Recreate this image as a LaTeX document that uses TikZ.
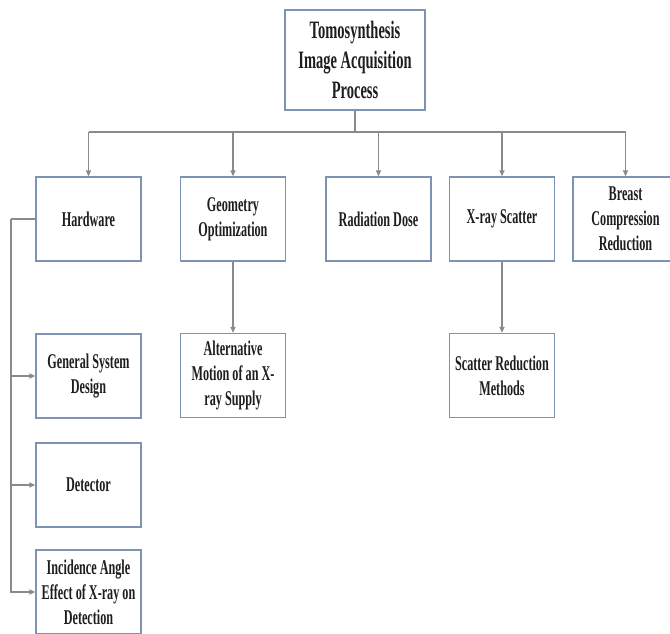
\documentclass[tikz,border=0pt]{standalone}
\usepackage{fontspec}
\newfontfamily\lbl{Liberation Serif}[FakeStretch=0.58]
\usetikzlibrary{arrows.meta}
\definecolor{boxc}{HTML}{7D93B2}
\definecolor{linec}{HTML}{8A8A8A}
\definecolor{txtc}{HTML}{1E1E1E}
\begin{document}
\begin{tikzpicture}[x=1pt,y=-1pt,
  box/.style={draw=boxc, line width=1.3pt, fill=white, rectangle, inner sep=0pt,
    minimum width=105pt, minimum height=84pt, align=center, text=txtc,
    font=\lbl\bfseries\fontsize{21}{25}\selectfont},
  titlebox/.style={box, minimum width=140pt, minimum height=100pt,
    font=\lbl\bfseries\fontsize{25}{30}\selectfont},
  conn/.style={draw=linec, line width=1.3pt},
  arr/.style={conn, -{Triangle[length=6pt,width=5pt]}}]
\useasboundingbox (0,0) rectangle (670,634);
\clip (0,0) rectangle (670,634);
\fill[white] (0,0) rectangle (670,634);

\node[titlebox] (top) at (355,60) {Tomosynthesis\\Image Acquisition\\Process};

\node[box] (hw) at (88.5,219) {Hardware};
\node[box] (geo) at (233,219) {Geometry\\Optimization};
\node[box] (rad) at (378.5,219) {Radiation Dose};
\node[box] (xs) at (502,219) {X-ray Scatter};
\node[box] (bc) at (625.5,219) {Breast\\Compression\\Reduction};

\node[box] (alt) at (233,375.5) {Alternative\\Motion of an X-\\ray Supply};
\node[box] (srm) at (502,375.5) {Scatter Reduction\\Methods};

\node[box] (gsd) at (88.5,376) {General System\\Design};
\node[box] (det) at (88.5,485) {Detector};
\node[box] (inc) at (88.5,592) {Incidence Angle\\Effect of X-ray on\\Detection};

\coordinate (bus) at (355,132);
\coordinate (hwl) at (11,219);

\draw[conn] (top.south) -- (bus);
\draw[conn] (hw.north |- bus) -- (bc.north |- bus);
\foreach \n in {hw,geo,rad,xs,bc}{
  \draw[arr] (\n.north |- bus) -- (\n.north);
}
\draw[arr] (geo.south) -- (alt.north);
\draw[arr] (xs.south) -- (srm.north);

\draw[conn] (hw.west) -- (hwl);
\draw[arr] (hwl) |- (gsd.west);
\draw[arr] (hwl) |- (det.west);
\draw[arr] (hwl) |- (inc.west);
\end{tikzpicture}
\end{document}
